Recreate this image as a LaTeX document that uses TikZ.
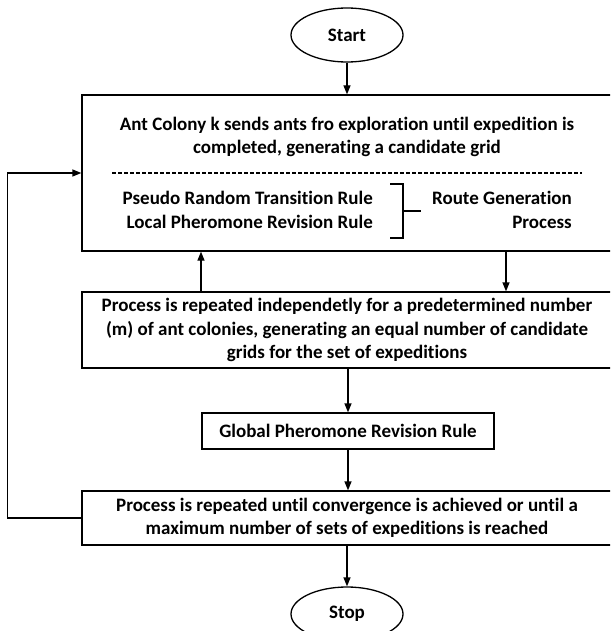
\documentclass[tikz,border=0pt]{standalone}
\usepackage{fontspec}
\setmainfont{Carlito}[Ligatures=NoCommon]
\usetikzlibrary{arrows.meta,shapes.geometric}
\begin{document}
\begin{tikzpicture}[x=1pt,y=-1pt,
  font=\bfseries\fontsize{19}{23.5}\selectfont,
  box/.style={draw,rectangle,line width=1.3pt,inner sep=0pt},
  term/.style={draw,ellipse,line width=1.3pt,minimum width=112pt,minimum height=54pt,inner sep=0pt},
  flow/.style={line width=1.3pt,-{Triangle[length=9pt,width=7pt]}},
  lbl/.style={inner sep=0pt}]
\useasboundingbox (0,0) rectangle (610,631);
\clip (0,0) rectangle (610,631);

% terminals
\node[term] (start) at (347,35) {Start};
\node[term] (stop) at (347,614) {Stop};

% process boxes
\node[box,minimum width=530pt,minimum height=76pt,align=center] (repeat) at (347,330)
  {Process is repeated independetly for a predetermined number\\
   (m) of ant colonies, generating an equal number of candidate\\
   grids for the set of expeditions};
\node[box,minimum width=530pt,minimum height=156pt] (colony) at (347,173) {};
\node[box,minimum width=292pt,minimum height=36pt] (global) at (348,431)
  {Global Pheromone Revision Rule};
\node[box,minimum width=530pt,minimum height=54pt,align=center] (converge) at (347,518)
  {Process is repeated until convergence is achieved or until a\\
   maximum number of sets of expeditions is reached};

% contents of the colony box
\node[lbl,align=center] (title) at (347,137)
  {Ant Colony k sends ants fro exploration until expedition is\\
   completed, generating a candidate grid};
\draw[line width=1.6pt,dash pattern=on 4pt off 2pt] (112,173) -- (582,173);
\node[lbl,align=right,anchor=east] (rules) at (373,210)
  {Pseudo Random Transition Rule\\Local Pheromone Revision Rule};
\node[lbl,align=right,anchor=east] (route) at (572,210)
  {Route Generation\\Process};
\draw[line width=1.2pt] (390,184) -| (403,238) -- (390,238);
\draw[line width=1.2pt] (403,211) -- (421,211);

% connectors
\draw[flow] (start) -- (colony.north);
\draw[flow] ([xshift=159pt]colony.south) -- ([xshift=159pt]repeat.north);
\draw[flow] ([xshift=-146pt]repeat.north) -- ([xshift=-146pt]colony.south);
\draw[flow] (repeat.south -| global.north) -- (global.north);
\draw[flow] (global.south) -- (global.south |- converge.north);
\draw[flow] (converge.south) -- (stop.north);
\draw[flow] (converge.west) -- ++(-74,0) |- (colony.west);
\end{tikzpicture}
\end{document}
